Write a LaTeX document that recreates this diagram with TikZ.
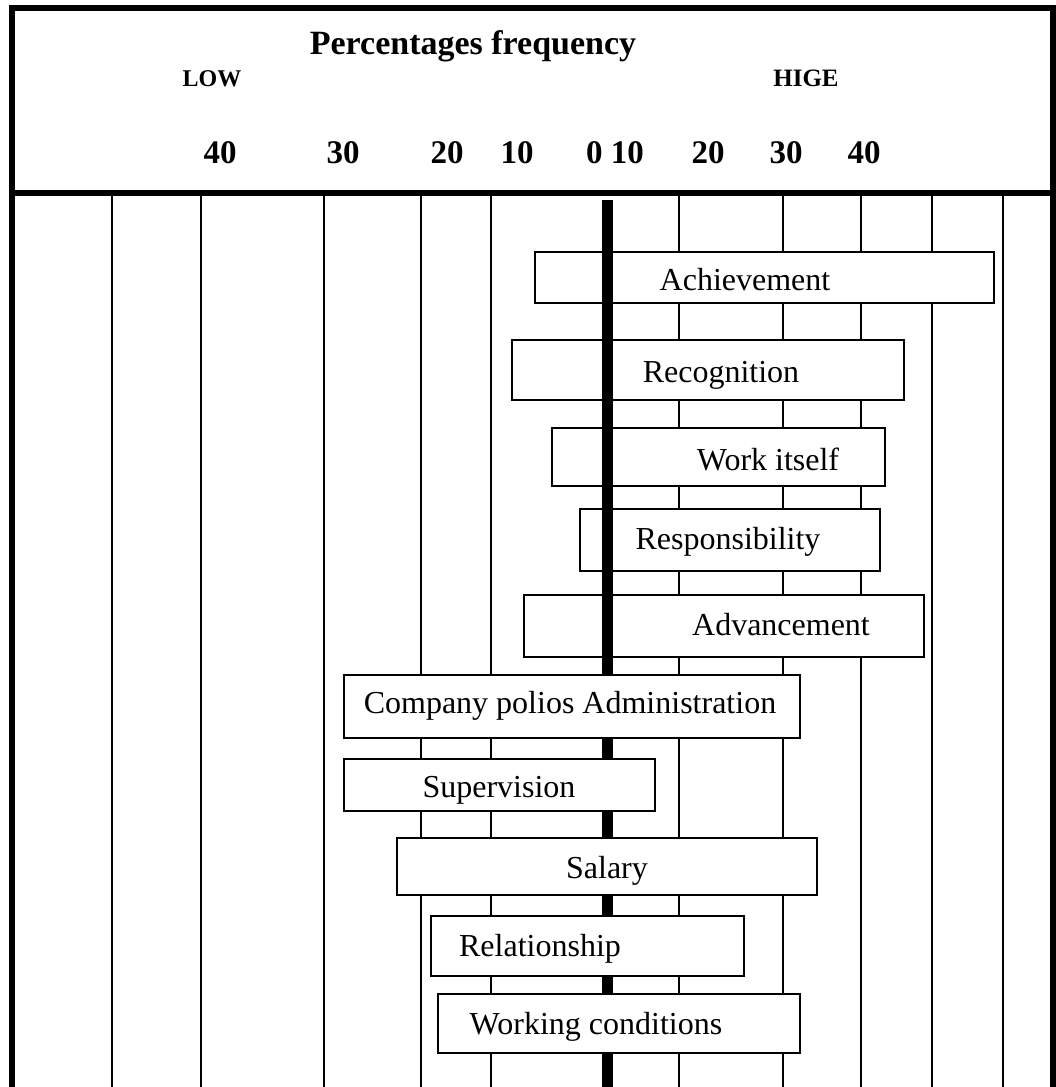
\documentclass[tikz,border=0pt]{standalone}
\usepackage{fontspec}
\setmainfont{Liberation Serif}
\usetikzlibrary{positioning}

\begin{document}
\begin{tikzpicture}[x=1pt, y=-1pt,
    frame/.style={line width=6pt},
    gridline/.style={line width=1.6pt},
    factorbox/.style={draw, line width=1.6pt, fill=white, inner sep=0pt},
    factor/.style={anchor=base, inner sep=0pt, font=\fontsize{32}{36}\selectfont},
    scale num/.style={anchor=base, inner sep=0pt, font=\bfseries\fontsize{33}{38}\selectfont}]
        \useasboundingbox (0,0) rectangle (1056,1087);

        % grid behind the bars
        \foreach \gx in {112,201,324,421,491,679,783,861,932,1003}
            \draw[gridline] (\gx,193) -- (\gx,1087);

        % motivators (zero line runs over them)
        \node[factorbox, minimum width=459, minimum height=51] (achv) at (764.5,277.5) {};
        \node[factorbox, minimum width=392, minimum height=60] (recog) at (708,370) {};
        \node[factorbox, minimum width=333, minimum height=58] (work) at (718.5,457) {};
        \node[factorbox, minimum width=300, minimum height=62] (resp) at (730,540) {};
        \node[factorbox, minimum width=400, minimum height=62] (adv) at (724,626) {};

        \draw[line width=11pt] (607,200) -- (607,1087);

        % hygiene factors
        \node[factorbox, minimum width=456, minimum height=63] (comp) at (572,706.5) {};
        \node[factorbox, minimum width=311, minimum height=52] (superv) at (499.5,785) {};
        \node[factorbox, minimum width=420, minimum height=57] (salary) at (607,866.5) {};
        \node[factorbox, minimum width=313, minimum height=60] (relat) at (587.5,946) {};
        \node[factorbox, minimum width=362, minimum height=59] (workc) at (619,1023.5) {};

        % frame and header
        \draw[frame] (9,8) -- (1056,8);
        \draw[frame] (12,5) -- (12,1087);
        \draw[frame] (1053,5) -- (1053,1087);
        \draw[frame] (12,193) -- (1053,193);

        \node[anchor=base, inner sep=0pt, font=\bfseries\fontsize{34}{40}\selectfont] (title) at (473,54) {Percentages frequency};
        \node[anchor=base, inner sep=0pt, font=\bfseries\fontsize{24}{28}\selectfont] (low) at (212,86) {LOW};
        \node[anchor=base, inner sep=0pt, font=\bfseries\fontsize{25}{29}\selectfont] (high) at (806,86) {HIGE};

        \foreach \v/\px in {40/220, 30/343, 20/447, 10/517, 0 10/615, 20/708, 30/786, 40/864}
            \node[scale num] (num\px) at (\px,163) {\v};

        % labels
        \node[factor] (achvtext) at (745,290) {Achievement};
        \node[factor] (recogtext) at (721,382) {Recognition};
        \node[factor] (worktext) at (768,470) {Work itself};
        \node[factor] (resptext) at (728,549) {Responsibility};
        \node[factor] (advtext) at (781,635) {Advancement};
        \node[factor] (comptext) at (570,713) {Company polios Administration};
        \node[factor] (supervtext) at (499,797) {Supervision};
        \node[factor] (salarytext) at (607,878) {Salary};
        \node[factor] (relattext) at (540,956) {Relationship};
        \node[factor] (workctext) at (596,1034) {Working conditions};
    \end{tikzpicture}
\end{document}
